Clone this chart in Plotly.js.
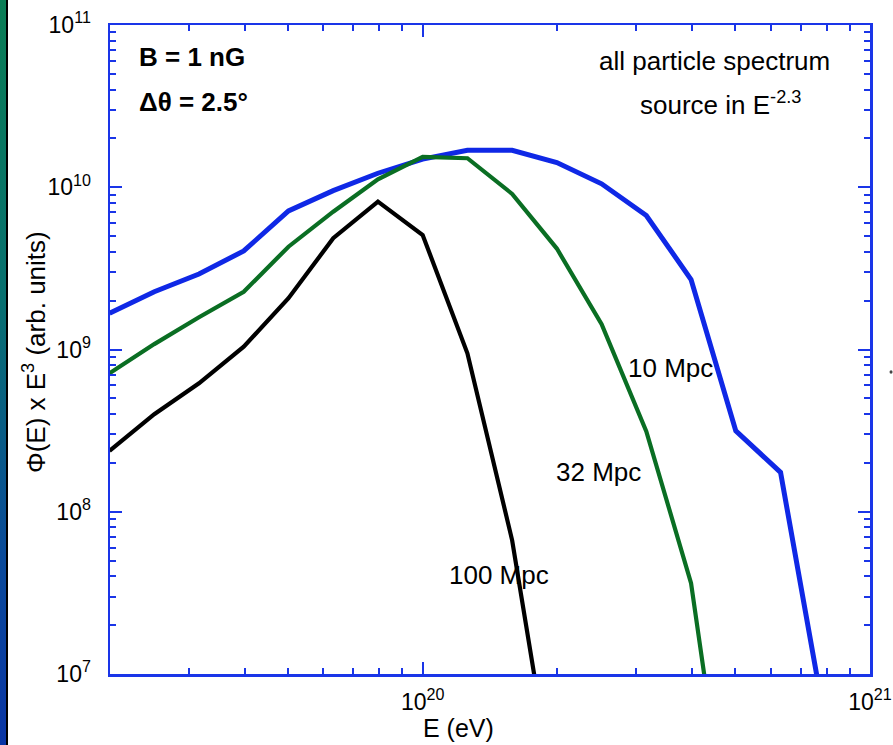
<!DOCTYPE html>
<html>
<head>
<meta charset="utf-8">
<script src="https://cdn.plot.ly/plotly-3.0.1.min.js"></script>
<style>
  html, body { margin: 0; padding: 0; background: #ffffff; }
  #wrap { position: relative; width: 893px; height: 745px; }
  #chart { width: 893px; height: 745px; }
  #strip { position: absolute; left: 0; top: 0; width: 6px; height: 745px;
           background: linear-gradient(to bottom, #0a7d55 0%, #087070 40%, #0a4a9a 75%, #0a35a5 100%);
           border-right: 2px solid #000; z-index: 5; }
</style>
</head>
<body>
<div id="wrap">
  <div id="strip"></div>
  <div id="chart"></div>
</div>
<script>
// Energies (eV), one point every 0.1 in log10(E)
const energy = [1.995e19, 2.512e19, 3.162e19, 3.981e19, 5.012e19, 6.310e19, 7.943e19,
                1.0e20, 1.259e20, 1.585e20, 1.995e20, 2.512e20, 3.162e20, 3.981e20,
                5.012e20, 6.310e20, 7.943e20];

// Phi(E) x E^3 (arb. units)
const flux10Mpc = [1.67e9, 2.27e9, 2.92e9, 4.05e9, 7.14e9, 9.53e9, 1.22e10, 1.49e10,
                   1.69e10, 1.69e10, 1.42e10, 1.05e10, 6.7e9, 2.7e9, 3.15e8, 1.75e8, 5.0e6];
const flux32Mpc = [7.13e8, 1.08e9, 1.58e9, 2.27e9, 4.3e9, 7.07e9, 1.12e10, 1.54e10,
                   1.51e10, 9.1e9, 4.19e9, 1.43e9, 3.13e8, 3.63e7, 4.4e5];
const flux100Mpc = [2.37e8, 3.99e8, 6.19e8, 1.04e9, 2.07e9, 4.85e9, 8.15e9, 5.08e9,
                    9.48e8, 6.67e7, 1.4e6];

const xTickVals = [1e20, 1e21];
const xTickText = ['10<sup>20</sup>', '10<sup>21</sup>'];
const yTickVals = [1e7, 1e8, 1e9, 1e10, 1e11];
const yTickText = ['10<sup>7</sup>', '10<sup>8</sup>', '10<sup>9</sup>', '10<sup>10</sup>', '10<sup>11</sup>'];

function minorTicks(decadeStarts) {
  const out = [];
  decadeStarts.forEach(d => { for (let m = 2; m <= 9; m++) out.push(m * d); });
  return out;
}

const axisBlue = '#1a35e8';
const FONT = 'Liberation Sans, Arial, Helvetica, sans-serif';

const traces = [
  { x: energy.slice(0, flux10Mpc.length), y: flux10Mpc, mode: 'lines', name: '10 Mpc',
    line: { color: '#0f28e6', width: 5 } },
  { x: energy.slice(0, flux32Mpc.length), y: flux32Mpc, mode: 'lines', name: '32 Mpc',
    line: { color: '#0a6e23', width: 4.2 } },
  { x: energy.slice(0, flux100Mpc.length), y: flux100Mpc, mode: 'lines', name: '100 Mpc',
    line: { color: '#000000', width: 4.2 } }
];

const commonAxis = {
  showgrid: false, zeroline: false, showline: true, linecolor: axisBlue, linewidth: 2.5,
  mirror: 'ticks', ticks: 'inside', tickcolor: axisBlue, tickwidth: 2, ticklen: 12,
  tickfont: { family: FONT, size: 23, color: '#000' }
};

const annFont = { family: FONT, size: 26, color: '#000' };

const layout = {
  width: 893, height: 745,
  margin: { l: 110, r: 23, t: 25, b: 71 },
  paper_bgcolor: '#ffffff', plot_bgcolor: '#ffffff',
  showlegend: false,
  font: { family: FONT, color: '#000' },
  xaxis: Object.assign({}, commonAxis, {
    type: 'log', range: [Math.log10(2e19), 21],
    tickmode: 'array', tickvals: xTickVals, ticktext: xTickText,
    ticklabelstandoff: 6,
    minor: { tickmode: 'array', tickvals: minorTicks([1e19, 1e20]), ticks: 'inside',
             ticklen: 6, tickwidth: 2, tickcolor: axisBlue, showgrid: false }
  }),
  yaxis: Object.assign({}, commonAxis, {
    type: 'log', range: [7, 11],
    tickmode: 'array', tickvals: yTickVals, ticktext: yTickText,
    ticklabelstandoff: 12,
    minor: { tickmode: 'array', tickvals: minorTicks([1e7, 1e8, 1e9, 1e10]), ticks: 'inside',
             ticklen: 6, tickwidth: 2, tickcolor: axisBlue, showgrid: false }
  }),
  shapes: [
    { type: 'circle', xref: 'paper', yref: 'paper', x0: 1.0257, x1: 1.0297, y0: 0.4625, y1: 0.4680,
      fillcolor: '#444', line: { width: 0 } }
  ],
  annotations: [
    { xref: 'paper', yref: 'paper', x: -0.1000, y: 0.496, xanchor: 'center', yanchor: 'middle',
      textangle: -90, text: 'Φ(E) x E<sup>3</sup> (arb. units)', showarrow: false,
      font: { family: FONT, size: 26, color: '#000' } },
    { xref: 'paper', yref: 'paper', x: 0.4579, y: -0.0835, xanchor: 'center', yanchor: 'middle',
      text: 'E (eV)', showarrow: false, font: { family: FONT, size: 25, color: '#000' } },
    { xref: 'paper', yref: 'paper', x: 0.0355, y: 0.9507, xanchor: 'left', yanchor: 'middle',
      text: '<b>B = 1 nG</b>', showarrow: false, font: { family: FONT, size: 26, color: '#000' } },
    { xref: 'paper', yref: 'paper', x: 0.0355, y: 0.8814, xanchor: 'left', yanchor: 'middle',
      text: '<b>Δθ = 2.5°</b>', showarrow: false, font: { family: FONT, size: 26, color: '#000' } },
    { xref: 'paper', yref: 'paper', x: 0.796, y: 0.9445, xanchor: 'center', yanchor: 'middle',
      text: 'all particle spectrum', showarrow: false, font: annFont },
    { xref: 'paper', yref: 'paper', x: 0.803, y: 0.879, xanchor: 'center', yanchor: 'middle',
      text: 'source in E<sup>-2.3</sup>', showarrow: false, font: annFont },
    { xref: 'paper', yref: 'paper', x: 0.738, y: 0.4715, xanchor: 'center', yanchor: 'middle',
      text: '10 Mpc', showarrow: false, font: annFont },
    { xref: 'paper', yref: 'paper', x: 0.6428, y: 0.3112, xanchor: 'center', yanchor: 'middle',
      text: '32 Mpc', showarrow: false, font: annFont },
    { xref: 'paper', yref: 'paper', x: 0.5118, y: 0.1525, xanchor: 'center', yanchor: 'middle',
      text: '100 Mpc', showarrow: false, font: annFont }
  ]
};

Plotly.newPlot('chart', traces, layout, { displayModeBar: false, staticPlot: true });
</script>
</body>
</html>
